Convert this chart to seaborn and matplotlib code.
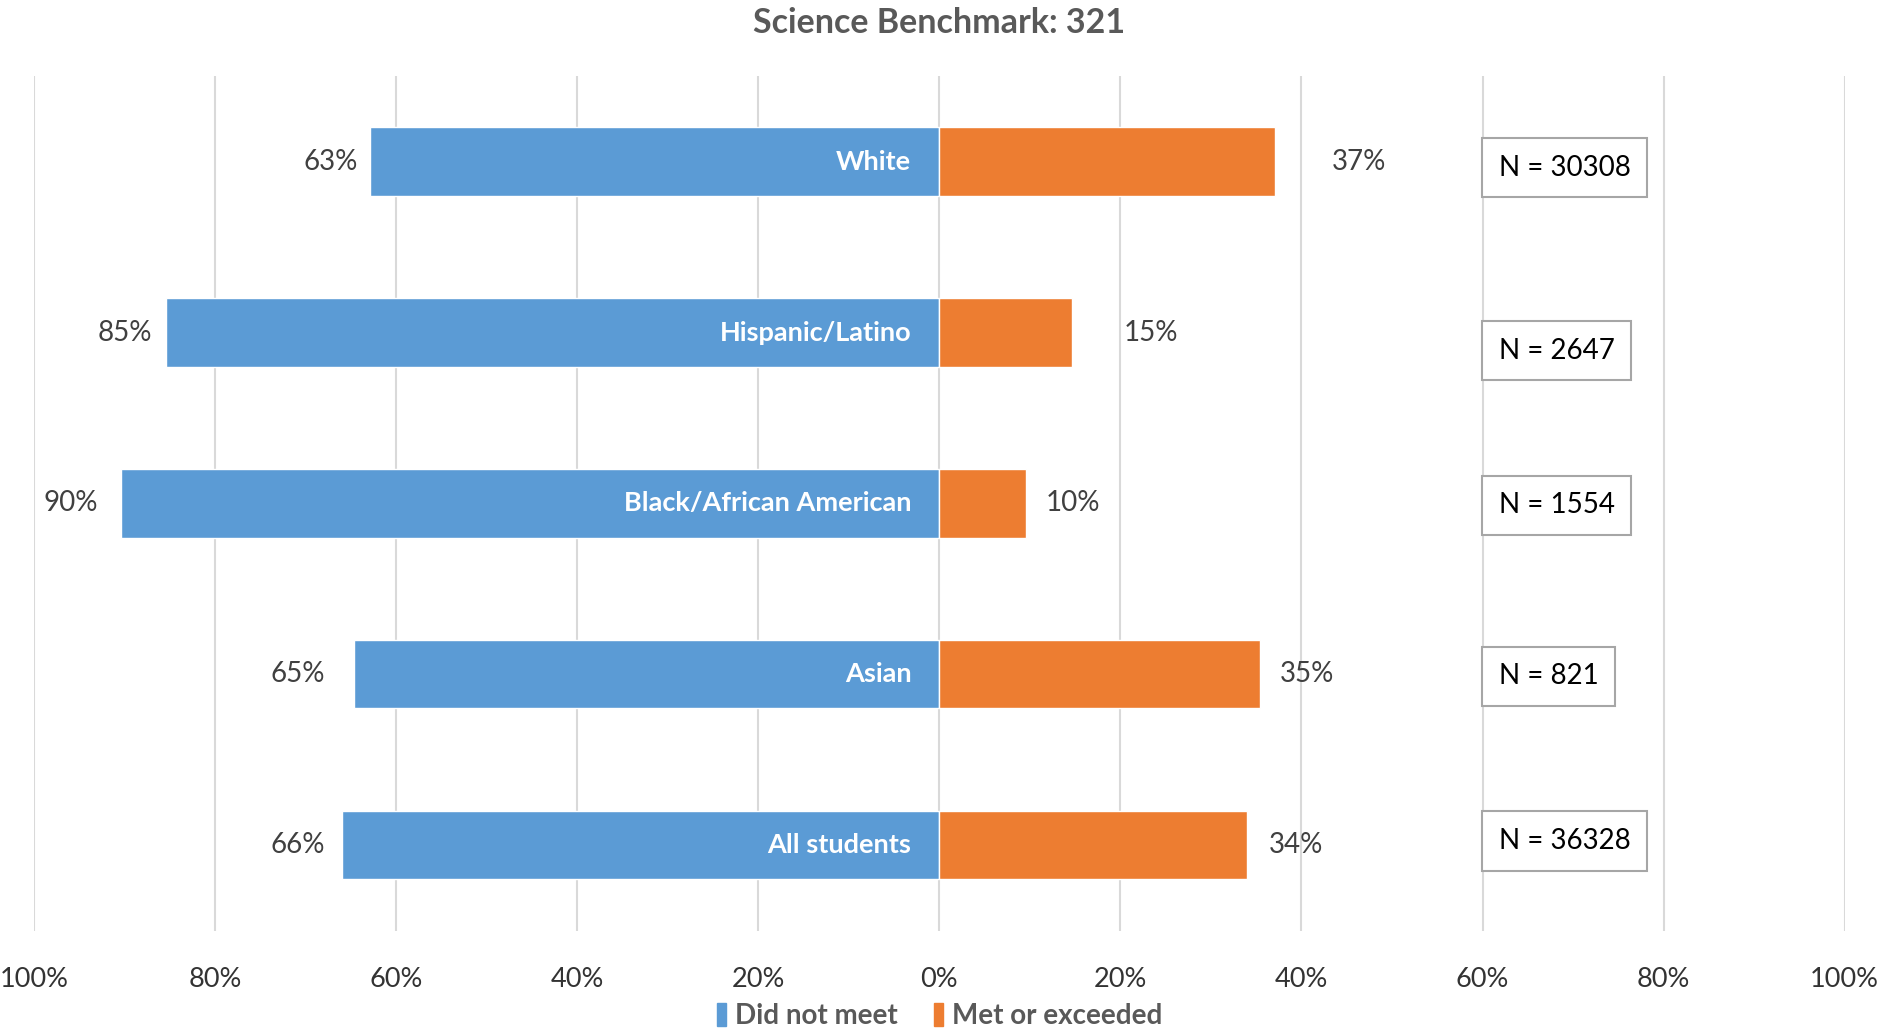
import matplotlib.pyplot as plt
import pandas as pd
import seaborn as sns
from matplotlib.patches import Patch

# Data (percent of students)
groups = ["White", "Hispanic/Latino", "Black/African American", "Asian", "All students"]
did_not_meet = [62.9, 85.4, 90.4, 64.6, 66.0]
met_or_exceeded = [37.1, 14.6, 9.6, 35.4, 34.0]
n_students = [30308, 2647, 1554, 821, 36328]
ticks = [-100, -80, -60, -40, -20, 0, 20, 40, 60, 80, 100]

# hand placed label nudges in pixels (the original was laid out by hand)
left_gap = [12, 14, 23, 29, 17]
right_gap = [57, 52, 19, 20, 22]
n_box_dy = [6, 18, 2, 2, -4]

BLUE = "#5B9BD5"
ORANGE = "#ED7D31"

sns.set_theme(style="white")
plt.rcParams["font.family"] = ["Lato", "DejaVu Sans"]

df = pd.DataFrame({
    "group": groups,
    "not_met": [-v for v in did_not_meet],
    "met": met_or_exceeded,
})

fig = plt.figure(figsize=(18.9, 10.3), dpi=100)
ax = fig.add_axes([0.018, 0.0965, 0.958, 0.8295])

sns.barplot(data=df, x="not_met", y="group", orient="h", color=BLUE,
            saturation=1, width=0.4, ax=ax)
sns.barplot(data=df, x="met", y="group", orient="h", color=ORANGE,
            saturation=1, width=0.4, ax=ax)

ax.set_xlim(-100, 100)
ax.set_xticks(ticks)
ax.set_xticklabels([f"{abs(t)}%" for t in ticks])
ax.set_yticks([])
ax.set_xlabel("")
ax.set_ylabel("")
ax.set_axisbelow(True)
ax.xaxis.grid(True, color="#d9d9d9", lw=1.5)
ax.tick_params(axis="x", length=0, pad=26, labelsize=19.5, labelcolor="#333333")
sns.despine(ax=ax, left=True, bottom=True)

for i, g in enumerate(groups):
    ax.annotate(f"{did_not_meet[i]:.0f}%", xy=(-did_not_meet[i], i),
                xytext=(-left_gap[i], 0), textcoords="offset pixels",
                ha="right", va="center", fontsize=20, color="#404040")
    ax.annotate(f"{met_or_exceeded[i]:.0f}%", xy=(met_or_exceeded[i], i),
                xytext=(right_gap[i], 0), textcoords="offset pixels",
                ha="left", va="center", fontsize=20, color="#404040")
    ax.annotate(g, xy=(0, i), xytext=(-28, 0), textcoords="offset pixels",
                ha="right", va="center", fontsize=19.5, fontweight="bold",
                color="white")
    ax.annotate(f"N = {n_students[i]}", xy=(60, i),
                xytext=(16, -n_box_dy[i]), textcoords="offset pixels",
                ha="left", va="center", fontsize=20, color="black",
                bbox=dict(boxstyle="square,pad=0.6", fc="white",
                          ec="#a6a6a6", lw=1.5))

fig.text(0.497, 0.978, "Science Benchmark: 321", ha="center", va="center",
         fontsize=24.5, fontweight="bold", color="#595959")

handles = [Patch(color=BLUE, label="Did not meet"),
           Patch(color=ORANGE, label="Met or exceeded")]
fig.legend(handles=handles, loc="center", bbox_to_anchor=(0.497, 0.014),
           ncol=2, frameon=False, handlelength=0.35, handleheight=0.9,
           handletextpad=0.3, columnspacing=1.3, labelcolor="#595959",
           prop={"size": 20, "weight": "bold"})

fig.savefig("out.png", dpi=100)
